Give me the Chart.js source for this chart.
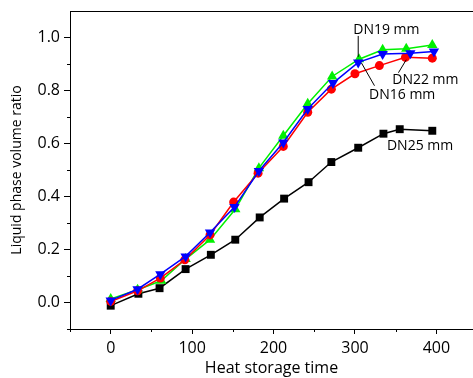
<!DOCTYPE html>
<html><head><meta charset="utf-8">
<style>html,body{margin:0;padding:0;background:#fff;overflow:hidden}#wrap{width:473px;height:378px}</style>
<script src="https://cdn.jsdelivr.net/npm/chart.js@4"></script>
</head><body><div id="wrap"><canvas id="c" width="473" height="378"></canvas></div>
<script>
const xTicks = [0, 100, 200, 300, 400];
const yTicks = [0.0, 0.2, 0.4, 0.6, 0.8, 1.0];
const xMinor = [-50, 50, 150, 250, 350];
const yMinor = [-0.1, 0.1, 0.3, 0.5, 0.7, 0.9];

const xDN25 = [0, 34, 60, 92, 123, 153, 183, 213, 243, 271, 304, 335, 355, 395];
const yDN25 = [-0.012, 0.033, 0.054, 0.126, 0.18, 0.237, 0.321, 0.392, 0.454, 0.530, 0.584, 0.637, 0.654, 0.648];

const xDN22 = [0, 33, 61, 91, 122, 151, 181, 212, 242, 271, 300, 330, 362, 395];
const yDN22 = [0.004, 0.044, 0.092, 0.161, 0.255, 0.379, 0.488, 0.589, 0.718, 0.805, 0.863, 0.894, 0.925, 0.922];

const xDN16 = [0, 33, 61, 92, 122, 152, 182, 212, 242, 273, 304, 334, 368, 397];
const yDN16 = [0.008, 0.05, 0.107, 0.174, 0.264, 0.36, 0.496, 0.604, 0.73, 0.828, 0.906, 0.938, 0.941, 0.947];

const xDN19 = [0, 33, 62, 92, 122, 153, 182, 212, 242, 272, 305, 334, 363, 395];
const yDN19 = [0.013, 0.048, 0.082, 0.164, 0.237, 0.352, 0.507, 0.629, 0.75, 0.853, 0.918, 0.954, 0.958, 0.972];

const annotations = [
  {text: 'DN19 mm', x: 338.6, y: 1.029, line: [[304, 1.006], [304, 0.927]]},
  {text: 'DN22 mm', x: 386.5, y: 0.840, line: [[353.4, 0.867], [363, 0.916]]},
  {text: 'DN16 mm', x: 358, y: 0.784, line: [[308, 0.904], [324, 0.818]]},
  {text: 'DN25 mm', x: 380, y: 0.592, line: null}
];

const FONT = '"Open Sans", "DejaVu Sans", sans-serif';
function pts(xs, ys){ return xs.map((x,i)=>({x:x, y:ys[i]})); }

const overlay = {
  id: 'overlay',
  afterDraw(chart){
    const ctx = chart.ctx, xs = chart.scales.x, ys = chart.scales.y, a = chart.chartArea;
    ctx.save();
    ctx.strokeStyle = '#000'; ctx.lineWidth = 1;
    ctx.beginPath(); ctx.moveTo(a.left, a.top + 0.5); ctx.lineTo(a.right, a.top + 0.5); ctx.stroke();
    xMinor.forEach(v=>{ const p = Math.round(xs.getPixelForValue(v)) + 0.5; ctx.beginPath(); ctx.moveTo(p, a.bottom); ctx.lineTo(p, a.bottom + 3); ctx.stroke(); });
    yMinor.forEach(v=>{ const p = Math.round(ys.getPixelForValue(v)) + 0.5; ctx.beginPath(); ctx.moveTo(a.left, p); ctx.lineTo(a.left - 3, p); ctx.stroke(); });
    ctx.font = '14px ' + FONT; ctx.fillStyle = '#000'; ctx.textAlign = 'center'; ctx.textBaseline = 'middle';
    annotations.forEach(an=>{
      ctx.fillText(an.text, xs.getPixelForValue(an.x), ys.getPixelForValue(an.y));
      if (an.line){
        ctx.beginPath();
        ctx.moveTo(xs.getPixelForValue(an.line[0][0]), ys.getPixelForValue(an.line[0][1]));
        ctx.lineTo(xs.getPixelForValue(an.line[1][0]), ys.getPixelForValue(an.line[1][1]));
        ctx.stroke();
      }
    });
    ctx.restore();
  }
};

function ds(label, xs, ys, color, style, radius, rot, order){
  return {label, data: pts(xs, ys), borderColor: color, backgroundColor: color, borderWidth: 1.5,
    pointStyle: style, pointRadius: radius, pointRotation: rot, pointBorderWidth: 0, pointBackgroundColor: color,
    pointBorderColor: color, order: order, tension: 0};
}

new Chart(document.getElementById('c'), {
  type: 'line',
  data: { datasets: [
    ds('DN16 mm', xDN16, yDN16, '#0000ff', 'triangle', 6, 180, 0),
    ds('DN22 mm', xDN22, yDN22, '#ff0000', 'circle', 4.5, 0, 1),
    ds('DN19 mm', xDN19, yDN19, '#00f000', 'triangle', 6, 0, 2),
    ds('DN25 mm', xDN25, yDN25, '#000000', 'rect', 5.6, 0, 3)
  ]},
  options: {
    responsive: false, animation: false, devicePixelRatio: 1,
    layout: {autoPadding: false, padding: {left: 0, right: 0, top: 11, bottom: 0}},
    plugins: {legend: {display: false}, tooltip: {enabled: false}},
    scales: {
      x: {type: 'linear', min: -50, max: 445,
        afterBuildTicks: s => { s.ticks = xTicks.map(v=>({value:v})); },
        afterFit: s => { s.height = 49; s.paddingLeft = 0; s.paddingRight = 0; },
        grid: {display: true, drawOnChartArea: false, drawTicks: true, tickLength: 5, color: '#000', lineWidth: 1},
        border: {display: true, color: '#000', width: 1},
        ticks: {color: '#000', font: {family: FONT, size: 16}, padding: 5, maxRotation: 0, callback: v => String(v)},
        title: {display: true, text: 'Heat storage time', color: '#000', font: {family: FONT, size: 16}, padding: {top: 0, bottom: 0}}
      },
      y: {type: 'linear', min: -0.1, max: 1.1,
        afterBuildTicks: s => { s.ticks = yTicks.map(v=>({value:v})); },
        afterFit: s => { s.width = 70; s.paddingTop = 0; s.paddingBottom = 0; },
        grid: {display: true, drawOnChartArea: false, drawTicks: true, tickLength: 6, color: '#000', lineWidth: 1},
        border: {display: true, color: '#000', width: 1},
        ticks: {color: '#000', font: {family: FONT, size: 16}, padding: 4, callback: v => v.toFixed(1)},
        title: {display: true, text: 'Liquid phase volume ratio', color: '#000', font: {family: FONT, size: 14}, padding: {top: 9, bottom: 0}}
      }
    }
  },
  plugins: [overlay]
});
</script></body></html>
